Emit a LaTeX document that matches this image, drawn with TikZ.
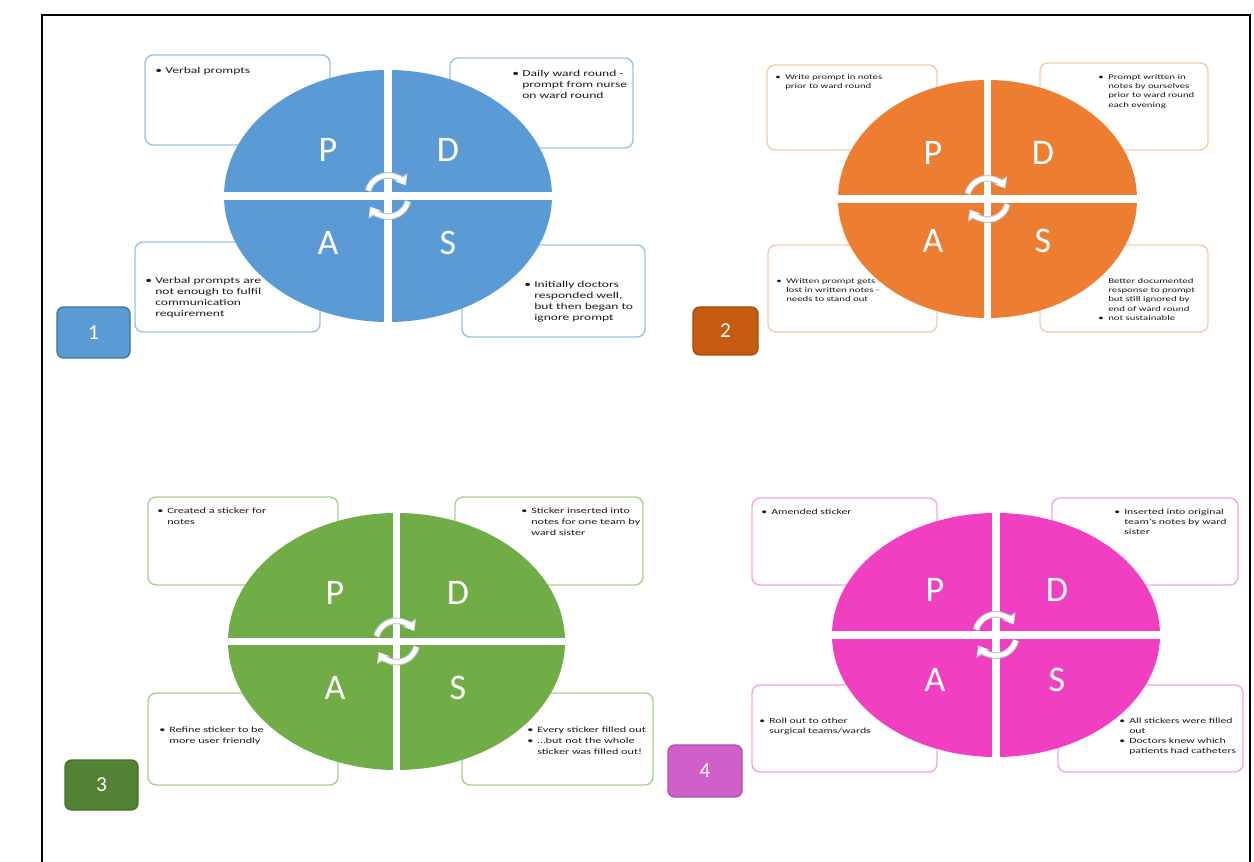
\documentclass[tikz,border=0pt]{standalone}
\usepackage{fontspec}
\setmainfont{Carlito}
\newfontfamily\boxfont[FakeStretch=1.5]{Carlito}
\usetikzlibrary{shapes.geometric,arrows.meta}
\definecolor{blueA}{HTML}{5B9BD5}
\definecolor{blueL}{HTML}{9DC3E6}
\definecolor{blueB}{HTML}{5B9BD5}
\definecolor{blueE}{HTML}{41719C}
\definecolor{orA}{HTML}{ED7D31}
\definecolor{orL}{HTML}{F8CBAD}
\definecolor{orB}{HTML}{C55A11}
\definecolor{grA}{HTML}{70AD47}
\definecolor{grL}{HTML}{A9D18E}
\definecolor{grB}{HTML}{548235}
\definecolor{mgA}{HTML}{F03FC0}
\definecolor{mgL}{HTML}{F4A6E0}
\definecolor{mgB}{HTML}{CF5FC9}
\definecolor{txtgray}{HTML}{1A1A1A}
\definecolor{iconedge}{HTML}{BFC9D3}
\newlength\bulw
\setlength\bulw{0.75em}
\newcommand\bitem[1]{\par\hangindent=\bulw\hangafter=1\noindent\makebox[\bulw][l]{\textbullet}#1\par}
\newcommand\nobul[1]{\par\hangindent=\bulw\hangafter=0\noindent#1\par}
\newcommand\cycleicon[1]{%
  \draw[line width=5pt, draw=iconedge, -{Triangle[length=7.5pt,width=11pt]}] (#1.center) ++(165:15.5pt) arc[start angle=165,end angle=30,radius=15.5pt];
  \draw[line width=5pt, draw=iconedge, -{Triangle[length=7.5pt,width=11pt]}] (#1.center) ++(-15:15.5pt) arc[start angle=-15,end angle=-150,radius=15.5pt];
  \draw[line width=3.3pt, draw=white, -{Triangle[length=5.8pt,width=8.8pt]}] (#1.center) ++(165:15.5pt) arc[start angle=165,end angle=32,radius=15.5pt];
  \draw[line width=3.3pt, draw=white, -{Triangle[length=5.8pt,width=8.8pt]}] (#1.center) ++(-15:15.5pt) arc[start angle=-15,end angle=-148,radius=15.5pt];
}
\begin{document}
\begin{tikzpicture}[x=0.75pt,y=-0.75pt,
  oval/.style={ellipse, inner sep=0pt, draw=none},
  sbox/.style={rectangle, rounded corners=6pt, line width=1.1pt, fill=white, inner sep=0pt},
  txt/.style={anchor=north west, inner sep=0pt, text width=120pt, align=left, text=txtgray},
  txtA/.style={txt, font=\boxfont\fontsize{6.8}{8.25}\selectfont},
  txtB/.style={txt, font=\boxfont\fontsize{5.4}{6.9}\selectfont},
  txtC/.style={txt, font=\boxfont\fontsize{6.1}{8.2}\selectfont},
  txtD/.style={txt, font=\boxfont\fontsize{5.9}{7.6}\selectfont},
  letter/.style={text=white, inner sep=0pt, font=\fontsize{27}{27}\selectfont},
  badge/.style={rectangle, rounded corners=5pt, text=white, line width=1pt, inner sep=0pt, font=\fontsize{16}{16}\selectfont},
  gap/.style={draw=white, line width=5.5pt}
]
\useasboundingbox (0,0) rectangle (1254,862);
\fill[white] (0,0) rectangle (1254,862);
\draw[line width=1.4pt, black] (42,862) -- (42,15) -- (1250,15) -- (1250,862);

% ---------- Quadrant 1 (blue)
\node[sbox, draw=blueL, minimum width=138.75pt, minimum height=67.5pt] (b1p) at (237.5,100) {};
\node[sbox, draw=blueL, minimum width=137.25pt, minimum height=67.5pt] (b1d) at (541.5,103) {};
\node[sbox, draw=blueL, minimum width=138.75pt, minimum height=67.5pt] (b1a) at (227.5,287) {};
\node[sbox, draw=blueL, minimum width=137.25pt, minimum height=69pt] (b1s) at (553.5,291) {};
\node[txtA] (t1p) at (155,62) {\bitem{Verbal prompts}};
\node[txtA] (t1d) at (512,65) {\bitem{Daily ward round -\newline prompt from nurse\newline on ward round}};
\node[txtA] (t1a) at (145,272) {\bitem{Verbal prompts are\newline not enough to fulfil\newline communication\newline requirement}};
\node[txtA] (t1s) at (524,276) {\bitem{Initially doctors\newline responded well,\newline but then began to\newline ignore prompt}};
\node[oval, fill=blueA, minimum width=246pt, minimum height=189pt] (e1) at (388,196) {};
\draw[gap] (e1.west) -- (e1.east);
\draw[gap] (e1.north) -- (e1.south);
\cycleicon{e1}
\node[letter] (p1) at (328,150) {P};
\node[letter] (d1) at (448,150) {D};
\node[letter] (a1) at (328,243) {A};
\node[letter] (s1) at (448,243) {S};
\node[badge, fill=blueB, draw=blueE, minimum width=54.75pt, minimum height=38.25pt] (n1) at (93.5,332.5) {1};

% ---------- Quadrant 2 (orange)
\node[sbox, draw=orL, minimum width=127.5pt, minimum height=63.75pt] (b2p) at (852,107.5) {};
\node[sbox, draw=orL, minimum width=126pt, minimum height=65.25pt] (b2d) at (1124,106.5) {};
\node[sbox, draw=orL, minimum width=126.75pt, minimum height=65.25pt] (b2a) at (852.5,288.5) {};
\node[sbox, draw=orL, minimum width=126pt, minimum height=65.25pt] (b2s) at (1124,288.5) {};
\node[txtB] (t2p) at (775,70) {\bitem{Write prompt in notes\newline prior to ward round}};
\node[txtB] (t2d) at (1098,70) {\bitem{Prompt written in\newline notes by ourselves\newline prior to ward round\newline each evening}};
\node[txtB] (t2a) at (776,274) {\bitem{Written prompt gets\newline lost in written notes -\newline needs to stand out}};
\node[txtB] (t2s) at (1098,274) {\nobul{Better documented\newline response to prompt\newline but still ignored by\newline end of ward round}\bitem{not sustainable}};
\node[oval, fill=orA, minimum width=224.25pt, minimum height=178.5pt] (e2) at (987.5,199) {};
\draw[gap] (e2.west) -- (e2.east);
\draw[gap] (e2.north) -- (e2.south);
\cycleicon{e2}
\node[letter] (p2) at (933,153) {P};
\node[letter] (d2) at (1043,153) {D};
\node[letter] (a2) at (933,241) {A};
\node[letter] (s2) at (1043,241) {S};
\node[badge, fill=orB, draw=orB!85!black, minimum width=48.75pt, minimum height=36pt] (n2) at (725.5,331) {2};

% ---------- Quadrant 3 (green)
\node[sbox, draw=grL, minimum width=142.5pt, minimum height=66pt] (b3p) at (243,541) {};
\node[sbox, draw=grL, minimum width=141pt, minimum height=66pt] (b3d) at (549,541) {};
\node[sbox, draw=grL, minimum width=142.5pt, minimum height=69pt] (b3a) at (243,739) {};
\node[sbox, draw=grL, minimum width=143.25pt, minimum height=69pt] (b3s) at (557.5,739) {};
\node[txtC] (t3p) at (157,502) {\bitem{Created a sticker for\newline notes}};
\node[txtC] (t3d) at (521,502) {\bitem{Sticker inserted into\newline notes for one team by\newline ward sister}};
\node[txtC] (t3a) at (159,721) {\bitem{Refine sticker to be\newline more user friendly}};
\node[txtC] (t3s) at (527,721) {\bitem{Every sticker filled out}\bitem{\ldots but not the whole\newline sticker was filled out!}};
\node[oval, fill=grA, minimum width=252.75pt, minimum height=192.75pt] (e3) at (396.5,641.5) {};
\draw[gap] (e3.west) -- (e3.east);
\draw[gap] (e3.north) -- (e3.south);
\cycleicon{e3}
\node[letter] (p3) at (335,593) {P};
\node[letter] (d3) at (458,593) {D};
\node[letter] (a3) at (335,688) {A};
\node[letter] (s3) at (458,688) {S};
\node[badge, fill=grB, draw=grB!85!black, minimum width=54.75pt, minimum height=37.5pt] (n3) at (101.5,785) {3};

% ---------- Quadrant 4 (magenta)
\node[sbox, draw=mgL, minimum width=138.75pt, minimum height=65.25pt] (b4p) at (844.5,541.5) {};
\node[sbox, draw=mgL, minimum width=139.5pt, minimum height=65.25pt] (b4d) at (1145,541.5) {};
\node[sbox, draw=mgL, minimum width=138.75pt, minimum height=65.25pt] (b4a) at (844.5,728.5) {};
\node[sbox, draw=mgL, minimum width=138.75pt, minimum height=65.25pt] (b4s) at (1150.5,728.5) {};
\node[txtD] (t4p) at (761,504) {\bitem{Amended sticker}};
\node[txtD] (t4d) at (1114,504) {\bitem{Inserted into original\newline team's notes by ward\newline sister}};
\node[txtD] (t4a) at (759,713) {\bitem{Roll out to other\newline surgical teams/wards}};
\node[txtD] (t4s) at (1119,713) {\bitem{All stickers were filled\newline out}\bitem{Doctors knew which\newline patients had catheters}};
\node[oval, fill=mgA, minimum width=246pt, minimum height=183pt] (e4) at (996,635) {};
\draw[gap] (e4.west) -- (e4.east);
\draw[gap] (e4.north) -- (e4.south);
\cycleicon{e4}
\node[letter] (p4) at (935,590) {P};
\node[letter] (d4) at (1057,590) {D};
\node[letter] (a4) at (935,680) {A};
\node[letter] (s4) at (1057,680) {S};
\node[badge, fill=mgB, draw=mgB!85!black, minimum width=55.5pt, minimum height=39pt] (n4) at (705,771) {4};
\end{tikzpicture}
\end{document}
